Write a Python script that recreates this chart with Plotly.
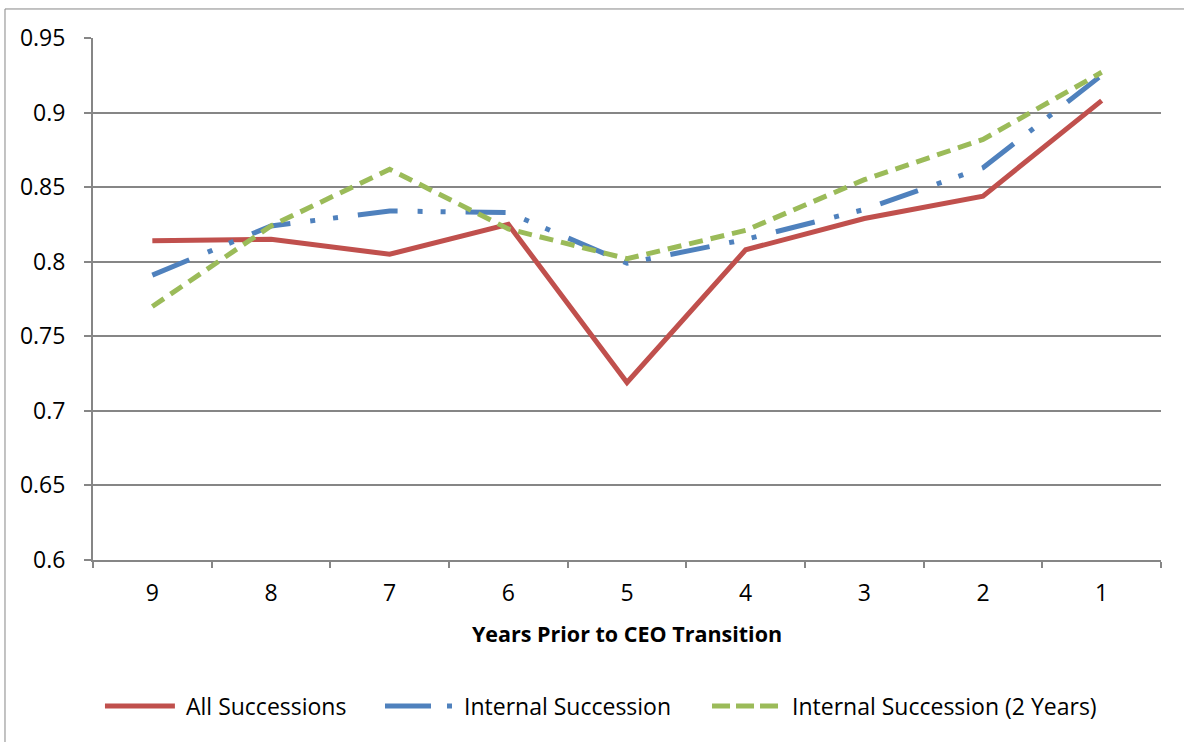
import plotly.graph_objects as go

years = ["9", "8", "7", "6", "5", "4", "3", "2", "1"]
all_successions = [0.814, 0.815, 0.805, 0.825, 0.719, 0.808, 0.829, 0.844, 0.908]
internal_succession = [0.791, 0.824, 0.834, 0.833, 0.799, 0.815, 0.835, 0.863, 0.925]
internal_succession_2y = [0.770, 0.824, 0.862, 0.822, 0.802, 0.821, 0.855, 0.882, 0.927]
y_ticks = [0.6, 0.65, 0.7, 0.75, 0.8, 0.85, 0.9, 0.95]
y_tick_labels = ["0.6", "0.65", "0.7", "0.75", "0.8", "0.85", "0.9", "0.95"]
series_names = ["All Successions", "Internal Succession", "Internal Succession (2 Years)"]
series_colors = ["#C0504D", "#4F81BD", "#9BBB59"]
series_dashes = ["solid", "40px,20px,5px,18px,5px,20px", "14px,8px"]
legend_dashes = ["solid", "46px,16px,5px,200px", "18px,6px"]

FONT = "Open Sans, DejaVu Sans, sans-serif"
GRID = "#868686"

fig = go.Figure()
for name, vals, col, dash in zip(series_names,
                                 [all_successions, internal_succession, internal_succession_2y],
                                 series_colors, series_dashes):
    fig.add_trace(go.Scatter(x=years, y=vals, mode="lines", name=name, showlegend=False,
                             line=dict(color=col, width=5, dash=dash)))

# manual legend (to match the long legend keys of the original)
legend_y = -0.2797
legend_keys = [(0.0112, 0.0767, 0.0852), (0.2734, 0.3399, 0.3455), (0.5796, 0.6414, 0.6526)]
shapes = [dict(type="rect", xref="paper", yref="paper", x0=-0.0824, y0=-0.36, x1=1.05, y1=1.0556,
               line=dict(color=GRID, width=1), layer="below")]
annotations = []
for (x0, x1, xt), name, col, dash in zip(legend_keys, series_names, series_colors, legend_dashes):
    shapes.append(dict(type="line", xref="paper", yref="paper", x0=x0, x1=x1, y0=legend_y, y1=legend_y,
                       line=dict(color=col, width=5, dash=dash)))
    annotations.append(dict(xref="paper", yref="paper", x=xt, y=legend_y, text=name, showarrow=False,
                            xanchor="left", yanchor="middle", font=dict(size=23, family=FONT)))

fig.update_layout(
    width=1184, height=742,
    margin=dict(l=93, r=23, t=38, b=182),
    paper_bgcolor="white", plot_bgcolor="white",
    font=dict(family=FONT, size=23, color="black"),
    showlegend=False,
    shapes=shapes,
    annotations=annotations,
)

fig.update_xaxes(
    type="category", tickson="boundaries", ticks="outside", ticklen=6, tickwidth=2, tickcolor=GRID,
    showline=True, linecolor=GRID, linewidth=2, showgrid=False,
    tickfont=dict(size=23), ticklabelstandoff=11,
    title=dict(text="<b>Years Prior to CEO Transition</b>", font=dict(size=21.5), standoff=20),
    range=[-0.5, 8.5],
)
fig.update_yaxes(
    range=[0.6, 0.95], tickvals=y_ticks, ticktext=y_tick_labels,
    ticks="outside", ticklen=7, tickwidth=2, tickcolor=GRID,
    showline=True, linecolor=GRID, linewidth=2,
    showgrid=True, gridcolor=GRID, gridwidth=2, zeroline=False,
    tickfont=dict(size=23), ticklabelstandoff=14,
)

fig.write_html("out.html")
